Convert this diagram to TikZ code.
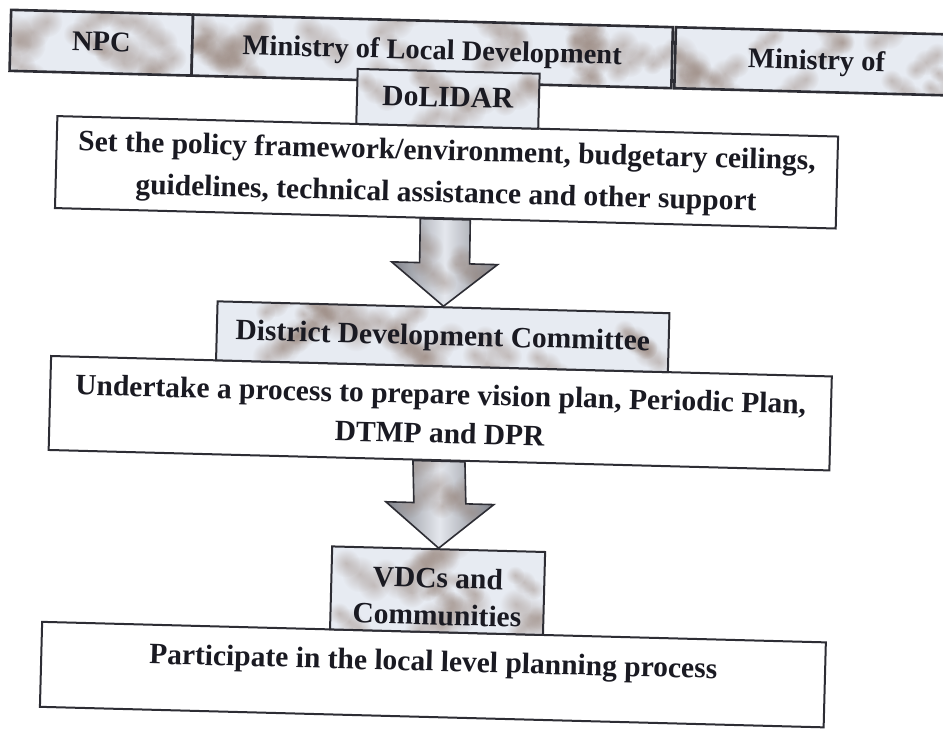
\documentclass[tikz,border=0pt]{standalone}
\usepackage{fontspec}
\setmainfont{Liberation Serif}
\usetikzlibrary{calc,fadings}

\definecolor{paper}{RGB}{231,235,242}
\definecolor{spot}{RGB}{140,118,106}
\definecolor{inkline}{RGB}{45,45,52}
\definecolor{ink}{RGB}{26,26,34}
\definecolor{arrowedge}{RGB}{118,120,128}
\definecolor{arrowmid}{RGB}{228,231,237}

\tikzfading[name=blobfade, inner color=transparent!60, outer color=transparent!100]

% soft brownish speckles scattered over the rectangle x1 y1 x2 y2
\newcommand\speckles[5]{%
  \foreach \k in {1,...,#5}{%
    \pgfmathsetmacro\bx{#1+rnd*(#3-#1)}%
    \pgfmathsetmacro\by{#2+rnd*(#4-#2)}%
    \pgfmathsetmacro\br{11+rnd*9}%
    \pgfmathsetmacro\bd{rnd<0.5 ? 1 : -1}%
    \fill[spot, path fading=blobfade] (\bx,\by) circle[radius=\br pt];
    \fill[spot, path fading=blobfade] (\bx+0.8*\br,\by-0.6*\bd*\br) circle[radius=0.9*\br pt];
    \fill[spot, path fading=blobfade] (\bx-0.8*\br,\by+0.6*\bd*\br) circle[radius=0.8*\br pt];
  }}

% mottled background of a labelled box
\newcommand\mottledbox[5]{%
  \begin{scope}
    \clip (#1,#2) rectangle (#3,#4);
    \fill[paper] (#1,#2) rectangle (#3,#4);
    \speckles{#1}{#2}{#3}{#4}{#5}
  \end{scope}}

\newcommand\bodyfont{\bfseries\fontsize{29.5}{39}\selectfont}

\begin{document}
\begin{tikzpicture}[x=1pt, y=-1pt,
  box/.style={draw=inkline, line width=2pt, inner xsep=0pt, inner ysep=0pt,
    text=ink, align=center, font=\bodyfont},
  toprow/.style={box, line width=2.6pt, text height=38.7pt, text depth=22.3pt,
    font=\bfseries\fontsize{28.5}{33}\selectfont},
  wide/.style={box, fill=white, minimum width=781pt},
  blockarrow/.style={draw=inkline, line width=1.6pt, line join=miter}]
\pgfmathsetseed{23}
\useasboundingbox (0,0) rectangle (943,730);
\fill[white] (0,0) rectangle (943,730);

\begin{scope}[rotate around={-1.5:(471,365)}, transform shape]

  % national level bodies
  \mottledbox{2}{22}{184}{83}{10}
  \node[toprow, minimum width=182pt] (npc) at (93,52.5) {NPC};
  \mottledbox{184}{22}{664}{83}{25}
  \node[toprow, minimum width=480pt] (mold) at (424,52.5) {Ministry of Local Development};
  \mottledbox{667}{22}{950}{83}{15}
  \node[toprow, minimum width=283pt] (minof) at (808.5,52.5) {Ministry of};

  % central role
  \node[wide, text height=34pt, text depth=58pt] (policy) at (441.5,173)
    {\begin{tabular}[t]{@{}c@{}}Set the policy framework/environment, budgetary ceilings,\\[3pt]
     guidelines, technical assistance and other support\end{tabular}};
  \mottledbox{350}{72}{532}{127}{8}
  \node[box, minimum width=182pt, text height=35.5pt, text depth=19.5pt] (dolidar) at (441,99.5) {DoLIDAR};

  % district level
  \node[wide, text height=38pt, text depth=56pt] (plan) at (441.5,414)
    {\begin{tabular}[t]{@{}c@{}}Undertake a process to prepare vision plan, Periodic Plan,\\
     DTMP and DPR\end{tabular}};
  \mottledbox{216}{308}{668}{367}{20}
  \node[box, minimum width=452pt, text height=38pt, text depth=21pt] (ddc) at (442,337.5)
    {District Development Committee};

  % village level
  \node[box, fill=white, minimum width=784pt, text height=39pt, text depth=46pt] (part) at (441,675.5)
    {Participate in the local level planning process};
  \mottledbox{337}{550}{550}{633}{14}
  \node[box, minimum width=213pt, text height=38.8pt, text depth=44.2pt,
        font=\bfseries\fontsize{29.5}{37}\selectfont] (vdc) at (443.5,591.5)
    {\begin{tabular}[t]{@{}c@{}}VDCs and\\ Communities\end{tabular}};

  % block arrows between the levels
  \draw[blockarrow, path picture={
      \shade[left color=arrowedge, right color=arrowedge, middle color=arrowmid] (386,212) rectangle (498,312);
      \speckles{392}{220}{492}{300}{5}}]
    ($(policy.south)+(-25,0)$) -- ($(policy.south)+(25,0)$) -- ($(ddc.north)+(25,-43)$)
    -- ($(ddc.north)+(53,-43)$) -- (ddc.north) -- ($(ddc.north)+(-53,-43)$)
    -- ($(ddc.north)+(-25,-43)$) -- cycle;
  \draw[blockarrow, path picture={
      \shade[left color=arrowedge, right color=arrowedge, middle color=arrowmid] (386,455) rectangle (500,554);
      \speckles{392}{462}{494}{540}{5}}]
    ($(plan.south)+(-26,0)$) -- ($(plan.south)+(26,0)$) -- ($(vdc.north)+(26,-45)$)
    -- ($(vdc.north)+(54,-45)$) -- (vdc.north) -- ($(vdc.north)+(-54,-45)$)
    -- ($(vdc.north)+(-26,-45)$) -- cycle;
\end{scope}
\end{tikzpicture}
\end{document}
